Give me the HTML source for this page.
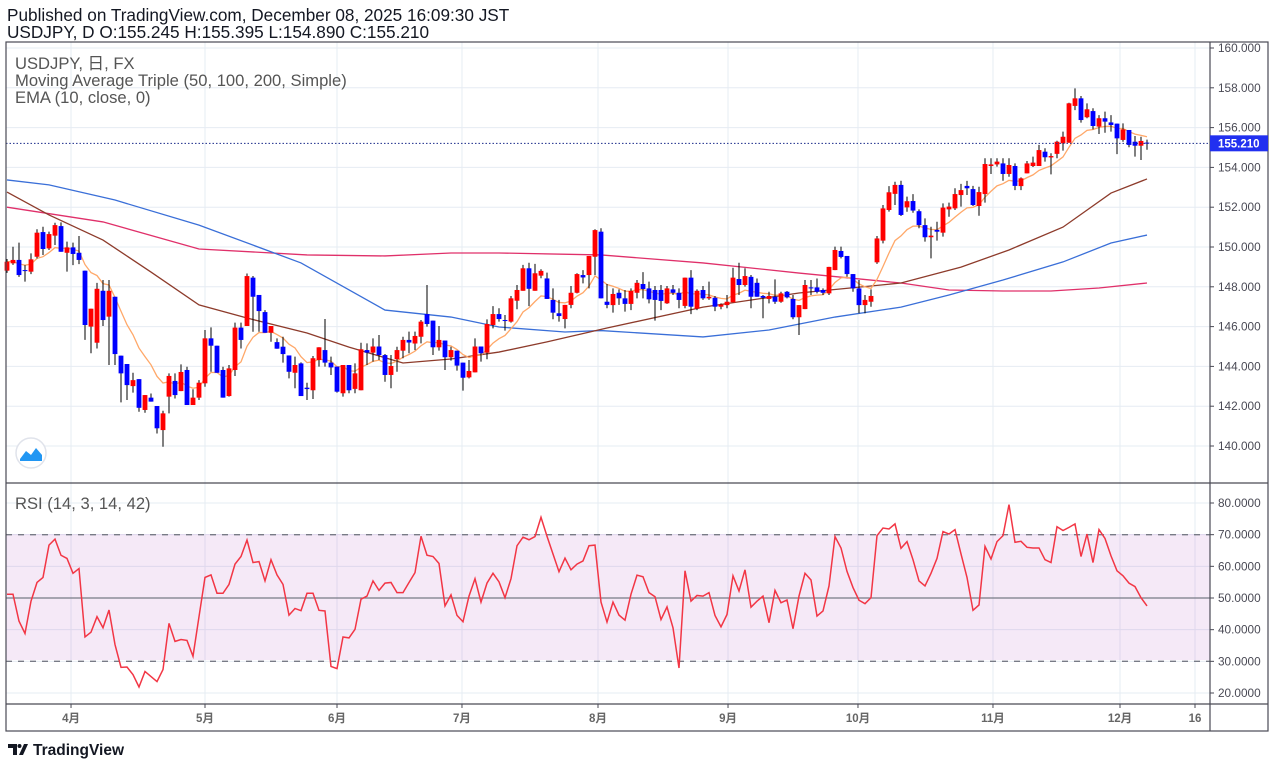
<!DOCTYPE html>
<html><head><meta charset="utf-8"><style>
html,body{margin:0;padding:0;background:#fff;}
svg{display:block;font-family:"Liberation Sans","Noto Sans CJK JP",sans-serif;}
</style></head><body>
<svg id="chart" width="1274" height="768" viewBox="0 0 1274 768" xmlns="http://www.w3.org/2000/svg">
<text x="7" y="21" font-size="17.2" fill="#131722">Published on TradingView.com, December 08, 2025 16:09:30 JST</text>
<text x="7" y="38" font-size="17.2" fill="#131722">USDJPY, D O:155.245 H:155.395 L:154.890 C:155.210</text>
<g id="grid"></g>
<rect x="6" y="534" width="1204" height="126" fill="#9c27b0" fill-opacity="0.1"/>
<g id="marks"></g>
<g id="frame">
<rect x="6" y="42" width="1262" height="689" fill="none" stroke="#4a4a55" stroke-width="1.2"/>
<line x1="1210" y1="42" x2="1210" y2="731" stroke="#4a4a55" stroke-width="1.2"/>
<line x1="6" y1="483" x2="1268" y2="483" stroke="#4a4a55" stroke-width="1.2"/>
<line x1="6" y1="704" x2="1268" y2="704" stroke="#4a4a55" stroke-width="1.2"/>
</g>
<text x="15" y="69" font-size="16.6" fill="#555">USDJPY, 日, FX</text>
<text x="15" y="86" font-size="16.6" fill="#555">Moving Average Triple (50, 100, 200, Simple)</text>
<text x="15" y="103" font-size="16.6" fill="#555">EMA (10, close, 0)</text>
<text x="15" y="509" font-size="16.6" fill="#555">RSI (14, 3, 14, 42)</text>
<g>
<circle cx="31" cy="453" r="15" fill="#fff" stroke="#e0e3eb" stroke-width="1.5"/>
<path d="M20 459 L26 451 L31 455 L36 448 L42 455 L42 461 L20 461 Z" fill="#2196f3"/>
</g>
<g>
<path d="M8 744 h9 v11 h-4 v-7 h-5 z M19 755 l5 -11 h4 l-5 11 z" fill="#131722"/>
<circle cx="19.5" cy="746" r="2" fill="#131722"/>
<text x="33" y="755" font-size="15.5" font-weight="bold" fill="#131722">TradingView</text>
</g>
</svg>
<script>
const opens=[148.81,149.18,149.35,148.84,148.76,149.51,150.75,149.93,150.57,151.05,149.71,149.98,149.71,148.81,146.00,145.19,147.80,146.50,147.50,144.54,144.12,143.01,143.36,141.81,142.43,142.01,140.80,142.48,143.27,142.76,143.82,142.06,142.43,143.15,145.41,145.04,143.82,142.51,143.82,145.95,146.03,148.46,147.59,146.73,145.69,145.22,144.99,144.55,143.68,144.15,142.93,142.80,144.32,144.82,144.19,143.99,142.65,144.07,142.87,142.80,144.82,144.69,145.00,144.57,143.57,144.36,144.79,145.33,145.15,145.49,146.63,146.30,144.96,145.30,144.46,144.79,144.19,143.45,143.70,145.00,144.69,146.08,146.63,146.33,146.25,147.30,147.80,148.93,147.80,148.56,148.42,147.34,146.67,146.38,147.09,147.70,148.59,148.59,149.51,150.77,147.25,147.08,147.70,147.42,147.14,147.70,148.14,147.92,147.84,147.84,147.17,147.87,147.70,147.04,148.46,146.90,147.84,147.42,147.45,147.00,147.08,147.22,148.39,148.09,148.50,148.20,147.54,147.39,147.50,147.25,147.75,147.39,146.47,146.88,147.97,147.97,147.84,147.67,148.84,149.80,149.55,148.64,147.92,147.08,147.25,149.23,150.32,151.86,152.67,153.12,151.99,152.31,151.80,151.10,150.49,150.86,150.72,151.89,151.94,152.61,153.07,152.91,152.06,152.66,154.07,154.15,154.20,153.67,154.07,153.06,153.70,154.07,154.07,154.79,154.50,154.68,155.21,155.24,157.09,157.47,156.52,156.83,156.05,156.47,156.26,156.20,155.38,155.88,155.29,155.09,155.245];
const highs=[149.40,150.01,150.22,149.09,149.68,150.89,151.02,150.77,151.22,151.24,150.27,150.22,150.55,148.81,146.90,148.20,148.34,148.34,147.50,144.54,144.12,143.68,143.36,142.56,142.64,142.01,141.77,143.65,143.65,144.10,143.98,142.85,143.31,145.83,145.96,145.04,143.98,144.07,146.20,146.20,148.67,148.54,147.59,146.83,146.03,145.41,145.49,144.55,144.49,144.20,143.18,144.52,144.96,146.38,144.49,143.99,144.07,144.07,144.15,145.19,145.16,145.41,145.58,144.62,144.57,144.99,145.49,145.75,145.75,146.33,148.09,146.30,146.03,145.30,144.99,144.79,144.19,144.32,145.41,145.00,146.36,147.03,146.92,146.58,147.54,148.09,149.10,149.21,149.15,148.88,148.71,147.92,147.34,147.09,148.04,148.68,148.84,149.55,150.89,150.94,148.14,147.92,147.87,147.84,147.92,148.34,148.74,148.26,148.04,148.09,148.04,148.09,147.92,148.46,148.84,147.87,148.04,148.26,147.54,147.17,147.59,148.96,149.21,148.93,148.59,148.42,147.59,147.75,148.37,147.75,147.79,147.59,147.08,148.34,148.34,148.42,147.92,149.00,150.02,150.02,149.55,148.64,148.34,147.59,147.87,150.55,152.11,153.06,153.28,153.33,152.53,152.66,151.89,151.44,151.02,151.27,152.19,152.23,152.95,153.17,153.32,153.07,153.03,154.46,154.46,154.46,154.46,154.46,154.20,153.50,154.32,154.54,155.13,154.96,154.71,155.34,155.80,157.25,157.97,157.59,157.22,156.97,156.63,156.80,156.63,156.20,156.21,155.88,155.58,155.54,155.395];
const lows=[148.70,149.10,148.50,148.26,148.64,149.43,149.60,149.85,150.10,149.76,148.76,149.09,149.14,145.33,144.66,144.90,146.03,144.07,144.07,142.19,142.31,142.68,141.72,141.67,142.23,140.63,139.96,141.64,142.39,142.76,142.06,142.06,142.31,142.98,143.73,143.68,142.43,142.48,143.52,144.90,146.03,145.74,145.74,145.69,145.24,144.89,144.19,143.40,142.90,142.51,142.31,142.36,143.99,143.99,143.57,142.68,142.48,142.65,142.65,142.80,144.07,144.24,144.32,143.23,142.90,143.73,144.41,144.66,144.82,145.16,146.00,144.57,144.79,143.82,144.29,143.79,142.78,143.40,143.70,144.24,144.36,145.91,146.25,145.80,146.20,146.87,147.80,147.03,147.80,148.43,147.39,146.37,146.25,145.91,146.92,147.67,148.17,147.92,148.59,147.42,146.92,146.70,147.09,146.75,146.83,147.42,147.42,147.17,146.30,146.83,147.14,147.59,146.92,146.92,146.63,146.83,147.34,147.34,146.78,146.87,146.92,147.22,147.59,148.01,146.92,147.50,146.42,147.17,147.14,147.20,147.42,146.37,145.58,146.88,147.59,147.67,147.59,147.59,148.84,149.43,148.51,147.75,146.67,146.67,147.00,149.15,150.18,151.78,152.11,151.56,151.77,151.72,150.94,150.27,149.43,150.32,150.52,151.52,151.86,152.03,152.61,152.06,151.57,152.23,153.67,154.04,153.33,153.53,152.86,152.86,153.70,154.02,154.07,154.29,153.65,154.46,154.84,155.24,156.88,156.25,156.47,155.91,155.68,155.74,155.80,154.67,155.29,155.01,154.54,154.37,154.89];
const closes=[149.26,149.35,148.59,148.79,149.38,150.72,149.90,150.65,151.10,149.76,149.98,149.65,149.35,146.08,146.90,147.90,146.33,147.80,144.62,143.65,143.06,143.31,141.92,142.56,142.23,140.89,141.64,143.52,142.56,143.72,142.06,142.43,143.18,145.41,145.04,143.68,142.43,143.90,145.95,145.33,148.54,147.50,146.78,145.69,146.03,144.89,144.62,143.73,144.07,142.51,142.86,144.41,144.96,144.19,143.95,142.73,144.07,142.80,143.65,144.86,144.69,145.00,144.57,143.57,144.02,144.82,145.33,145.20,145.53,146.25,146.13,144.96,145.33,144.46,144.82,144.04,143.43,143.77,145.00,144.66,146.13,146.63,146.38,146.28,147.42,147.84,148.93,147.90,148.68,148.80,147.39,146.70,146.53,147.09,147.70,148.64,148.47,149.55,150.85,147.42,147.09,147.64,147.42,147.14,147.79,148.20,147.89,147.37,147.34,147.29,147.92,147.70,147.34,148.46,147.00,147.80,147.42,147.50,147.00,147.11,147.25,148.46,148.09,148.54,147.50,147.50,147.45,147.54,147.25,147.67,147.47,146.47,147.08,148.09,147.92,147.75,147.70,149.00,149.85,149.50,148.64,147.92,147.08,147.34,147.54,150.43,151.94,152.75,153.12,151.61,152.30,151.83,151.10,150.49,150.57,150.77,151.98,152.03,152.66,152.86,152.95,152.11,152.76,154.17,154.15,154.29,153.67,154.12,153.07,153.45,154.20,154.24,154.87,154.51,154.57,155.29,155.54,157.22,157.47,156.38,156.92,156.08,156.47,156.30,156.13,155.46,155.91,155.13,155.09,155.33,155.21];
const rsiVals=[51.2,51.2,42.7,38.8,49.0,54.9,56.5,66.7,68.6,63.5,62.5,57.8,59.3,37.7,39.2,44.1,40.6,46.2,35.3,28.1,28.2,25.8,21.9,26.8,25.2,23.6,27.4,42.0,36.3,36.9,36.6,31.6,44.1,56.5,57.3,51.5,51.5,54.3,60.7,63.1,68.3,61.2,61.5,55.4,62.1,57.3,54.3,44.6,46.7,46.0,51.5,51.5,46.1,45.9,28.4,27.7,37.7,37.4,40.1,49.6,50.6,55.4,52.4,54.7,54.9,51.7,51.7,54.9,58.0,69.5,63.5,63.1,60.9,47.5,51.0,44.5,42.5,50.6,56.1,48.7,54.7,57.8,55.1,50.1,56.1,66.5,69.2,68.4,69.4,75.5,69.5,63.9,58.3,62.6,58.9,60.7,61.7,66.5,66.7,48.7,42.4,48.7,44.6,43.0,51.2,57.2,56.7,51.7,50.4,43.2,47.2,40.6,27.9,58.6,49.0,50.8,50.6,51.7,44.5,40.9,44.8,57.0,52.2,58.9,47.1,49.0,50.6,42.2,52.4,48.5,49.4,40.3,50.6,57.8,55.7,44.3,45.9,53.8,69.4,65.8,58.4,53.3,49.3,48.2,50.1,69.7,72.1,71.8,73.4,65.7,67.8,62.1,55.4,53.8,57.8,62.5,71.0,70.2,71.6,63.9,56.5,46.1,47.8,66.3,62.3,67.8,69.7,79.5,67.6,67.9,66.0,65.8,65.8,62.1,61.2,72.5,71.3,72.3,73.4,63.1,70.2,61.2,71.6,68.8,63.3,58.6,57.0,54.7,53.6,50.1,47.5];
const ma50Bars=[0,7,16,24,32,40,50,57,66,74,82,90,100,116,132,149,159,167,176,184,190];
const ma50Vals=[152.76,151.61,150.35,148.74,147.09,146.43,145.68,144.97,144.17,144.37,144.72,145.23,145.93,146.98,147.69,148.19,148.99,149.85,151.0,152.71,153.42];
const ma100Bars=[0,7,18,32,49,63,74,82,93,99,116,127,138,149,157,166,176,184,190];
const ma100Vals=[153.37,153.12,152.36,151.1,149.2,146.83,146.48,145.98,145.73,145.8,145.48,145.83,146.48,146.98,147.59,148.34,149.25,150.2,150.6];
const ma200Bars=[0,16,32,50,63,74,82,99,116,132,149,157,166,174,182,190];
const ma200Vals=[152.0,151.26,149.9,149.6,149.55,149.7,149.7,149.6,149.2,148.69,148.19,147.84,147.79,147.79,147.94,148.19];
const priceTicks=[160,158,156,154,152,150,148,146,144,142,140];
const rsiTicks=[80,70,60,50,40,30,20];
const monthLabels=["4月","5月","6月","7月","8月","9月","10月","11月","12月","16"];
const monthBars=[10.67,33,55,75.83,98.5,120.17,141.83,164.33,185.5,198];
const lastPrice=155.21;

const NS="http://www.w3.org/2000/svg";
const xs=i=>7+6*i;
const py=p=>48+(160-p)*19.9;
const ry=r=>503+(80-r)*(190/60);
function mk(tag,attrs,parent){const e=document.createElementNS(NS,tag);for(const k in attrs)e.setAttribute(k,attrs[k]);parent.appendChild(e);return e;}
const grid=document.getElementById('grid');
const marks=document.getElementById('marks');
const svg=document.getElementById('chart');

priceTicks.forEach(t=>{
  const l=mk('line',{x1:6,x2:1210,y1:py(t),y2:py(t),stroke:'#e6ecf3','stroke-width':1},grid);
  
  
  const tk=mk('line',{x1:1210,x2:1214,y1:py(t),y2:py(t),stroke:'#4a4a55'},svg);
  
  
  const tx=mk('text',{x:1218,y:py(t)+4,'font-size':11.8,fill:'#4a4a55'},svg);
  tx.textContent=t.toFixed(3);
  
  
});
rsiTicks.forEach(t=>{
  const l=mk('line',{x1:6,x2:1210,y1:ry(t),y2:ry(t),stroke:'#e6ecf3','stroke-width':1},grid);
  
  
  const tk=mk('line',{x1:1210,x2:1214,y1:ry(t),y2:ry(t),stroke:'#4a4a55'},svg);
  
  
  const tx=mk('text',{x:1218,y:ry(t)+4,'font-size':11.8,fill:'#4a4a55'},svg);
  tx.textContent=t.toFixed(4);
  
  
});
monthLabels.forEach((m,k)=>{
  const x=xs(monthBars[k]);
  const l=mk('line',{x1:x,x2:x,y1:42,y2:704,stroke:'#e6ecf3','stroke-width':1},grid);
  
  
  const tk=mk('line',{x1:x,x2:x,y1:704,y2:708,stroke:'#4a4a55'},svg);
  
  
  const tx=mk('text',{x:x,y:722,'font-size':11.5,'font-weight':'bold',fill:'#666','text-anchor':'middle'},svg);
  tx.textContent=m;
  
  
});

[[70,'6 6'],[30,'6 6'],[50,'']].forEach(([v,d])=>{
  const l=mk('line',{x1:6,x2:1210,y1:ry(v),y2:ry(v),stroke:'#787b86','stroke-width':1.3},marks);
  if(d)l.setAttribute('stroke-dasharray',d);
  
  
});

function polyKnots(bars,vals,color,name){
  const pts=bars.map((b,k)=>xs(b)+','+py(vals[k])).join(' ');
  const p=mk('polyline',{points:pts,fill:'none',stroke:color,'stroke-width':1.3},marks);
  
  
}
polyKnots(ma200Bars,ma200Vals,'#e0306a','ma200-line');
polyKnots(ma100Bars,ma100Vals,'#3a6fd8','ma100-line');
polyKnots(ma50Bars,ma50Vals,'#8d3b2b','ma50-line');

const ema=[];let e=closes[0];
closes.forEach((c,i)=>{e=i===0?c:e+(c-e)*2/11;ema.push(e);});
const ep=mk('polyline',{points:ema.map((v,i)=>xs(i)+','+py(v)).join(' '),fill:'none',stroke:'#ffa869','stroke-width':1.3},marks);



const cg=mk('g',{},marks);


closes.forEach((c,i)=>{
  const o=opens[i],x=xs(i),up=c>=o;
  const w=mk('line',{x1:x,x2:x,y1:py(highs[i]),y2:py(lows[i]),stroke:'#000','stroke-width':1},cg);
  
  
  const top=py(Math.max(o,c)),bot=py(Math.min(o,c));
  const b=mk('rect',{x:x-2.4,y:top,width:4.8,height:Math.max(1,bot-top),fill:up?'#ff0000':'#0000ff'},cg);
  
  
});

const rp=mk('polyline',{points:rsiVals.map((v,i)=>xs(i)+','+ry(v)).join(' '),fill:'none',stroke:'#f23645','stroke-width':1.5},marks);



const lp=mk('line',{x1:6,x2:1210,y1:py(lastPrice),y2:py(lastPrice),stroke:'#1a2a8a','stroke-width':1,'stroke-dasharray':'1.5 2'},marks);


const lr=mk('rect',{x:1210,y:py(lastPrice)-8,width:58,height:16,fill:'#2130f0'},svg);


const lt=mk('text',{x:1218,y:py(lastPrice)+4,'font-size':11.5,fill:'#fff','font-weight':'bold'},svg);
lt.textContent=lastPrice.toFixed(3);


</script>
</body></html>
